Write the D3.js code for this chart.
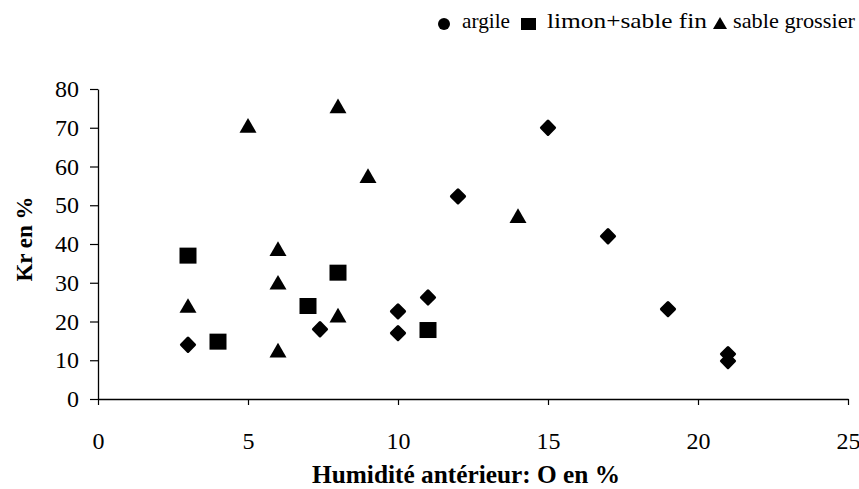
<!DOCTYPE html>
<html>
<head>
<meta charset="utf-8">
<script src="https://cdn.jsdelivr.net/npm/d3@7"></script>
<style>
  body { margin: 0; background: #fff; }
  text { font-family: "Liberation Serif", "Times New Roman", serif; fill: #000; }
</style>
</head>
<body>
<svg width="859" height="489"></svg>
<script>
// values
var argileX = [3, 7.4, 10, 10, 11, 12, 15, 17, 19, 21, 21];
var argileY = [14, 18, 22.6, 17, 26.2, 52.3, 70, 42, 23.2, 11.6, 9.8];
var limonX = [3, 4, 7, 8, 11];
var limonY = [37, 14.8, 24, 32.6, 17.8];
var sableX = [3, 5, 6, 6, 6, 8, 9, 8, 14];
var sableY = [23.5, 70, 38.2, 29.5, 12, 75, 57, 21, 46.7];
var xTicks = [0, 5, 10, 15, 20, 25];
var yTicks = [0, 10, 20, 30, 40, 50, 60, 70, 80];
var legendLabels = ["argile", "limon+sable fin", "sable grossier"];

var svg = d3.select("svg");
var margin = { top: 89, left: 98 };
var width = 750;
var height = 310;

var x = d3.scaleLinear().domain([0, 25]).range([0, width]);
var y = d3.scaleLinear().domain([0, 80]).range([height, 0]);
var g = svg.append("g").attr("transform", "translate(" + margin.left + "," + margin.top + ")");

// axes
var xAxis = g.append("g")
    .attr("transform", "translate(0," + height + ")")
    .call(d3.axisBottom(x).tickValues(xTicks).tickSize(6).tickPadding(27).tickSizeOuter(0));
var yAxis = g.append("g")
    .call(d3.axisLeft(y).tickValues(yTicks).tickSize(8).tickPadding(11).tickSizeOuter(0));

[xAxis, yAxis].forEach(function (a) {
    a.select(".domain").attr("stroke", "#000").attr("stroke-width", 1.3);
    a.selectAll(".tick line").attr("stroke", "#000").attr("stroke-width", 1.2);
    a.selectAll(".tick text")
        .style("font-family", "Liberation Serif")
        .style("font-size", "24px")
        .attr("fill", "#000");
});

// axis titles
svg.append("text")
    .attr("x", 466).attr("y", 483)
    .attr("text-anchor", "middle")
    .attr("textLength", 308).attr("lengthAdjust", "spacingAndGlyphs")
    .style("font-size", "25px").style("font-weight", "bold")
    .text("Humidité antérieur: O en %");

svg.append("text")
    .attr("transform", "translate(32,239) rotate(-90)")
    .attr("text-anchor", "middle")
    .style("font-size", "23px").style("font-weight", "bold")
    .text("Kr en %");

// markers
function pts(xs, ys) {
    return xs.map(function (v, i) { return { x: v, y: ys[i] }; });
}

g.selectAll(".argile")
    .data(pts(argileX, argileY))
    .enter().append("path")
    .attr("class", "argile")
    .attr("d", d3.symbol().type(d3.symbolDiamond2).size(110))
    .attr("stroke", "#000").attr("stroke-width", 3).attr("stroke-linejoin", "round")
    .attr("transform", function (d) { return "translate(" + x(d.x) + "," + y(d.y) + ")"; });

g.selectAll(".limon")
    .data(pts(limonX, limonY))
    .enter().append("rect")
    .attr("class", "limon")
    .attr("x", function (d) { return x(d.x) - 8.5; })
    .attr("y", function (d) { return y(d.y) - 8; })
    .attr("width", 17).attr("height", 16);

g.selectAll(".sable")
    .data(pts(sableX, sableY))
    .enter().append("path")
    .attr("class", "sable")
    .attr("d", d3.symbol().type(d3.symbolTriangle).size(125))
    .attr("transform", function (d) { return "translate(" + x(d.x) + "," + y(d.y) + ")"; });

// legend
var leg = svg.append("g");
leg.append("circle").attr("cx", 444).attr("cy", 24).attr("r", 6);
leg.append("rect").attr("x", 521).attr("y", 18).attr("width", 15).attr("height", 12);
leg.append("path")
    .attr("d", d3.symbol().type(d3.symbolTriangle).size(85))
    .attr("transform", "translate(720,25)");
var legX = [462, 547, 733];
var legW = [48, 160, 122];
leg.selectAll(".lt")
    .data(legendLabels)
    .enter().append("text")
    .attr("x", function (d, i) { return legX[i]; })
    .attr("y", 28)
    .attr("textLength", function (d, i) { return legW[i]; })
    .attr("lengthAdjust", "spacingAndGlyphs")
    .style("font-size", "22px")
    .text(function (d) { return d; });
</script>
</body>
</html>
